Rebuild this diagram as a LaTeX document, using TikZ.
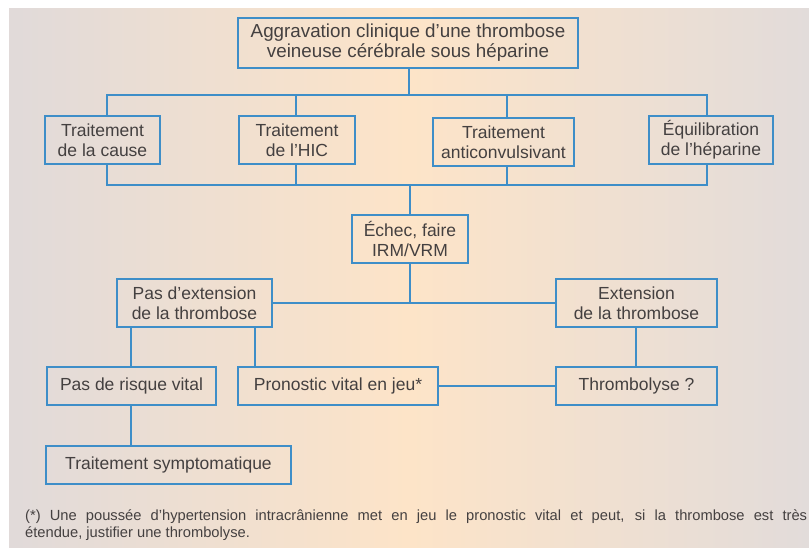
\documentclass[tikz,border=0pt]{standalone}
\usepackage{fontspec}
\setmainfont{Liberation Sans}
\definecolor{boxblue}{RGB}{62,142,200}
\definecolor{txt}{RGB}{68,64,64}
\definecolor{bgl}{RGB}{196,208,235}
\definecolor{bgm}{RGB}{253,228,200}
\definecolor{bgr}{RGB}{199,211,236}
\pgfdeclarehorizontalshading{bgshade}{100bp}{color(0bp)=(bgl); color(50bp)=(bgm); color(100bp)=(bgr)}
\begin{document}
\begin{tikzpicture}[x=1pt,y=-1pt,
  box/.style={draw=boxblue,line width=1.5pt,text=txt,align=center,inner sep=0pt,
    font=\fontsize{17.5}{20}\selectfont},
  conn/.style={draw=boxblue,line width=1.5pt},
  foot/.style={text=txt,inner sep=0pt,anchor=base west,font=\fontsize{14.7}{17}\selectfont}]
\useasboundingbox (0,0) rectangle (809,547);
\shade[shading=bgshade] (9,8) rectangle (809,547);
% nodes
\node[box,minimum width=340pt,minimum height=50pt,font=\fontsize{18.8}{20}\selectfont] (top) at (408,43)
  {Aggravation clinique d’une thrombose\\veineuse cérébrale sous héparine};
\node[box,minimum width=115pt,minimum height=48pt] (cause) at (102.5,140)
  {Traitement\\de la cause};
\node[box,minimum width=116pt,minimum height=48pt] (hic) at (297,140)
  {Traitement\\de l’HIC};
\node[box,minimum width=141pt,minimum height=48pt] (anti) at (503.5,142)
  {Traitement\\anticonvulsivant};
\node[box,minimum width=124pt,minimum height=48pt] (hep) at (711,140)
  {Équilibration\\de l’héparine};
\node[box,minimum width=116pt,minimum height=48pt] (echec) at (410,239)
  {Échec, faire\\IRM/VRM};
\node[box,minimum width=155pt,minimum height=48pt] (pasext) at (194.5,303)
  {Pas d’extension\\de la thrombose};
\node[box,minimum width=161pt,minimum height=48pt] (ext) at (636.5,303)
  {Extension\\de la thrombose};
\node[box,minimum width=169pt,minimum height=38pt] (pasrisque) at (131.5,386)
  {Pas de risque vital};
\node[box,minimum width=200pt,minimum height=38pt] (prono) at (338,386)
  {Pronostic vital en jeu*};
\node[box,minimum width=161pt,minimum height=38pt] (thrombo) at (636.5,386)
  {Thrombolyse ?};
\node[box,minimum width=245pt,minimum height=38pt] (sympto) at (168.5,465)
  {Traitement symptomatique};
% footnote
\node[foot] (fn1) at (25,520)
  {\makebox[782pt][s]{(*) Une poussée d’hypertension intracrânienne met en jeu le pronostic vital et peut, si la thrombose est très}};
\node[foot] (fn2) at (25,537) {étendue, justifier une thrombolyse.};
% connectors
\coordinate (b1) at (409,95);
\coordinate (b2) at (410,185);
\draw[conn] (top.south -| b1) -- (b1);
\draw[conn] ([xshift=4.5pt]cause.north) |- (b1) -| ([xshift=-4pt]hep.north);
\draw[conn] ([xshift=-1pt]hic.north) -- ([xshift=-1pt]hic.north |- b1);
\draw[conn] ([xshift=3.5pt]anti.north) -- ([xshift=3.5pt]anti.north |- b1);
\draw[conn] ([xshift=4.5pt]cause.south) |- (b2) -| ([xshift=-4pt]hep.south);
\draw[conn] ([xshift=-1pt]hic.south) -- ([xshift=-1pt]hic.south |- b2);
\draw[conn] ([xshift=3.5pt]anti.south) -- ([xshift=3.5pt]anti.south |- b2);
\draw[conn] (b2) -- (echec.north);
\draw[conn] (pasext.east) -- (ext.west);
\draw[conn] (echec.south) -- (echec.south |- pasext.east);
\draw[conn] ([xshift=-0.5pt]pasrisque.north) coordinate (p0) -- (p0 |- pasext.south);
\draw[conn] ([xshift=60.5pt]pasext.south) coordinate (p1) -- (p1 |- prono.north);
\draw[conn] ([xshift=-0.5pt]ext.south) coordinate (p3) -- (p3 |- thrombo.north);
\draw[conn] (prono.east) -- (thrombo.west);
\draw[conn] ([xshift=-0.5pt]pasrisque.south) coordinate (p2) -- (p2 |- sympto.north);
\end{tikzpicture}
\end{document}
